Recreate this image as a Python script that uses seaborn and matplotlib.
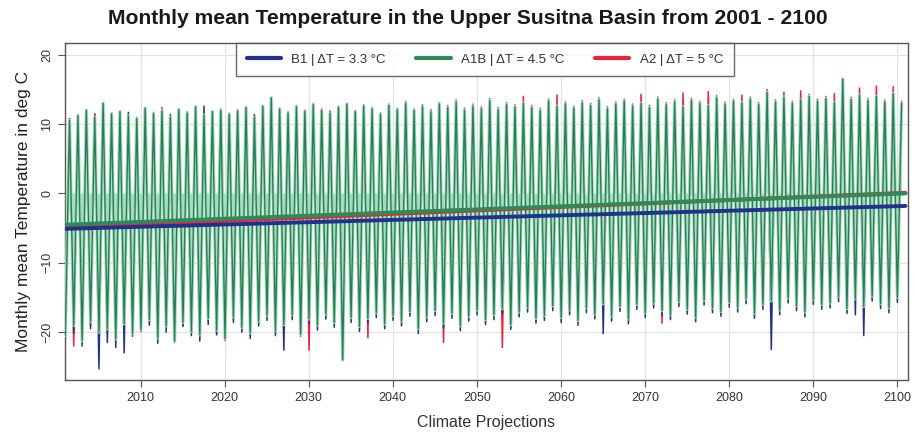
import numpy as np
import pandas as pd
import matplotlib
matplotlib.use("Agg")
import matplotlib.pyplot as plt
from matplotlib.lines import Line2D
import seaborn as sns

# Yearly extremes of the monthly mean temperature (deg C), 2001-2100:
# January minimum and July maximum for each emission scenario.
years = list(range(2001, 2101))

a1b_peak = [
    10.5, 11.2, 12.0, 11.0, 13.0, 11.5, 11.8, 11.2, 10.8, 12.3,
    11.5, 11.9, 11.0, 12.1, 11.6, 12.5, 11.3, 11.8, 12.0, 11.4,
    11.9, 12.4, 11.0, 12.6, 13.8, 12.2, 11.6, 12.5, 11.9, 12.8,
    12.0, 11.6, 12.4, 12.9, 11.8, 12.6, 12.2, 11.3, 12.7, 12.1,
    13.0, 12.0, 12.5, 11.8, 12.9, 12.4, 13.2, 12.0, 12.6, 12.2,
    13.4, 12.1, 12.8, 12.5, 13.0, 12.4, 12.0, 13.3, 12.6, 12.9,
    12.3, 13.1, 12.7, 13.5, 12.2, 12.9, 13.3, 12.6, 13.0, 12.4,
    13.6, 12.8, 13.2, 12.5, 13.4, 13.0, 12.7, 13.8, 12.9, 13.3,
    13.1, 13.6, 12.8, 14.6, 13.2, 13.9, 13.0, 13.5, 14.0, 13.3,
    13.7, 13.1, 16.5, 13.6, 14.2, 13.4, 14.0, 13.2, 14.4, 13.0,
]
a1b_trough = [
    -20.5, -19.0, -21.2, -18.5, -20.0, -19.5, -21.0, -18.8, -20.2, -19.6,
    -18.2, -20.8, -19.1, -21.3, -18.6, -19.9, -20.4, -18.0, -19.7, -20.9,
    -17.8, -19.3, -20.1, -18.4, -17.6, -19.8, -18.9, -17.5, -20.3, -18.1,
    -19.0, -17.4, -18.6, -24.0, -17.9, -19.2, -18.0, -17.2, -18.8, -17.6,
    -18.4, -17.0, -19.5, -17.8, -16.9, -18.7, -17.3, -19.1, -17.7, -16.8,
    -18.2, -17.5, -16.6, -18.9, -17.1, -16.4, -18.0, -17.6, -16.2, -17.9,
    -16.8, -18.3, -16.5, -17.4, -15.9, -17.7, -16.3, -18.1, -16.0, -17.2,
    -15.8, -16.9, -17.5, -15.6, -16.7, -17.8, -15.4, -16.5, -17.0, -15.7,
    -16.4, -15.2, -17.3, -16.0, -15.5, -16.8, -15.1, -16.2, -17.1, -15.3,
    -16.0, -15.8, -14.9, -16.6, -15.2, -16.3, -14.8, -15.9, -16.5, -15.0,
]
b1_peak = [
    10.8, 11.0, 11.6, 11.3, 12.4, 11.0, 11.5, 11.7, 10.9, 11.8,
    11.2, 11.5, 11.4, 11.9, 11.1, 12.0, 12.6, 11.5, 11.7, 11.2,
    11.6, 12.0, 11.3, 12.2, 12.8, 11.9, 11.4, 12.1, 11.7, 12.2,
    11.8, 11.9, 12.1, 12.3, 11.6, 12.0, 11.9, 11.5, 12.3, 11.8,
    12.4, 11.7, 12.2, 11.9, 12.5, 12.0, 12.6, 11.8, 12.2, 11.9,
    12.8, 11.9, 12.3, 12.1, 12.5, 12.0, 11.8, 12.7, 12.2, 12.4,
    12.0, 12.6, 12.3, 12.9, 11.9, 12.5, 12.8, 12.2, 12.5, 12.1,
    13.0, 12.4, 12.7, 12.2, 12.9, 12.5, 12.3, 13.1, 12.5, 12.8,
    12.6, 13.0, 12.4, 13.4, 12.8, 13.2, 12.6, 13.0, 13.3, 12.8,
    13.1, 12.7, 14.0, 13.0, 13.5, 12.9, 13.4, 12.8, 13.6, 12.6,
]
b1_trough = [
    -21.0, -20.2, -22.0, -19.5, -25.3, -21.5, -22.2, -23.0, -20.6, -19.8,
    -19.0, -21.6, -20.0, -20.8, -19.2, -20.5, -21.3, -18.9, -20.4, -19.8,
    -18.6, -20.0, -20.9, -19.1, -18.3, -20.5, -22.6, -18.2, -19.6, -18.8,
    -19.7, -18.1, -19.3, -21.8, -18.6, -19.9, -18.7, -17.9, -19.5, -18.3,
    -19.1, -17.7, -20.2, -18.5, -17.6, -19.4, -18.0, -19.8, -18.4, -17.5,
    -18.9, -18.2, -17.3, -19.6, -17.8, -17.1, -18.7, -18.3, -16.9, -18.6,
    -17.5, -19.0, -17.2, -18.1, -20.2, -18.4, -17.0, -18.8, -16.7, -17.9,
    -16.5, -17.6, -18.2, -16.3, -17.4, -18.5, -16.1, -17.2, -17.7, -16.4,
    -17.1, -15.9, -18.0, -16.7, -22.5, -17.5, -15.8, -16.9, -17.8, -16.0,
    -16.7, -16.5, -15.6, -17.3, -17.5, -20.5, -15.5, -16.6, -17.2, -15.7,
]
a2_peak = [
    10.6, 11.4, 11.8, 11.5, 12.6, 11.3, 11.6, 11.4, 11.0, 12.0,
    11.7, 12.4, 11.2, 12.0, 11.8, 12.3, 11.5, 11.9, 12.2, 11.6,
    12.1, 12.5, 11.4, 12.4, 13.2, 12.3, 11.8, 12.7, 12.0, 13.0,
    12.2, 11.8, 12.6, 12.7, 12.0, 12.8, 12.4, 11.6, 12.9, 12.3,
    13.3, 12.2, 12.8, 12.1, 13.1, 12.7, 13.5, 12.3, 12.9, 12.5,
    13.7, 12.4, 13.1, 12.8, 14.0, 12.7, 12.3, 13.6, 14.2, 13.2,
    12.6, 13.4, 13.0, 13.8, 12.5, 13.2, 13.6, 12.9, 14.3, 12.7,
    13.9, 13.1, 13.5, 14.5, 13.7, 13.3, 14.7, 14.1, 13.2, 13.6,
    14.2, 13.9, 13.1, 15.0, 13.5, 14.6, 13.3, 14.8, 14.3, 13.6,
    14.0, 14.4, 14.5, 13.9, 15.2, 13.7, 15.5, 13.5, 15.4, 13.3,
]
a2_trough = [
    -20.8, -22.0, -21.0, -19.0, -20.5, -20.0, -21.4, -19.2, -20.0, -19.9,
    -18.6, -21.0, -19.4, -21.5, -19.0, -20.1, -20.7, -18.3, -20.2, -21.2,
    -18.1, -19.6, -20.4, -18.7, -17.9, -20.1, -19.2, -17.8, -20.6, -22.6,
    -19.3, -17.7, -18.9, -21.2, -18.2, -19.5, -20.8, -17.5, -19.1, -17.9,
    -18.7, -17.3, -19.8, -18.1, -17.2, -21.5, -17.6, -19.4, -18.0, -17.1,
    -18.5, -17.8, -22.2, -19.2, -17.4, -16.7, -18.3, -17.9, -16.5, -18.2,
    -17.1, -18.6, -16.8, -17.7, -16.2, -18.0, -16.6, -18.4, -16.3, -17.5,
    -16.1, -18.7, -17.8, -15.9, -17.0, -18.1, -15.7, -16.8, -17.3, -16.0,
    -16.7, -15.5, -17.6, -16.3, -15.8, -17.1, -15.4, -16.5, -17.4, -15.6,
    -16.3, -16.1, -15.2, -16.9, -15.5, -16.6, -15.1, -16.2, -16.8, -15.3,
]

scenarios = ["B1", "A1B", "A2"]
delta_t = [3.3, 4.5, 5.0]          # warming over the century, deg C
trend_start = [-5.1, -4.5, -4.9]   # linear trend value at 2001, deg C
colors = {"B1": "#22308f", "A1B": "#2e8b57", "A2": "#e8243f"}
mint = "#a3dcbf"

series = {
    "B1": (b1_trough, b1_peak),
    "A1B": (a1b_trough, a1b_peak),
    "A2": (a2_trough, a2_peak),
}

rows = []
for name, (lows, highs) in series.items():
    for y, lo, hi in zip(years, lows, highs):
        rows.append((name, y + 0.04, lo))   # January
        rows.append((name, y + 0.54, hi))   # July
df = pd.DataFrame(rows, columns=["scenario", "time", "temp"])

trend_rows = []
for name, d, s in zip(scenarios, delta_t, trend_start):
    trend_rows.append((name, 2001.0, s))
    trend_rows.append((name, 2101.0, s + d))
trend = pd.DataFrame(trend_rows, columns=["scenario", "time", "temp"])

sns.set_style("white")
plt.rcParams["font.family"] = ["Liberation Sans", "DejaVu Sans"]

fig = plt.figure(figsize=(9.14, 4.33), dpi=100)
ax = fig.add_axes([0.0711, 0.1224, 0.9223, 0.7783])

# B1 and A2 underneath, A1B with a mint halo and shaded area on top
sns.lineplot(data=df[df.scenario != "A1B"], x="time", y="temp",
             hue="scenario", hue_order=["A2", "B1"], palette=colors,
             sort=False, estimator=None, linewidth=1.1, legend=False,
             ax=ax, zorder=2)
green = df[df.scenario == "A1B"]
ax.fill_between(green.time, green.temp, 0, color=mint, lw=0, zorder=3)
sns.lineplot(data=green, x="time", y="temp", color=mint,
             sort=False, estimator=None, linewidth=2.4, legend=False,
             ax=ax, zorder=3)
sns.lineplot(data=green, x="time", y="temp", color="#2a7f52",
             sort=False, estimator=None, linewidth=1.0, legend=False,
             ax=ax, zorder=4)

sns.lineplot(data=trend, x="time", y="temp", hue="scenario",
             hue_order=["A2", "A1B", "B1"], palette=colors, sort=False,
             estimator=None, linewidth=2.8, legend=False, ax=ax, zorder=5)

ax.set_xlim(2001.0, 2101.3)
ax.set_ylim(-26.9, 21.7)
ax.set_xticks(range(2010, 2101, 10))
ax.set_yticks([-20, -10, 0, 10, 20])
ax.grid(True, color="#e2e2e2", lw=0.8, zorder=0)
ax.set_axisbelow(True)
for sp in ax.spines.values():
    sp.set_color("#555555")
    sp.set_linewidth(1.0)
ax.tick_params(axis="both", direction="out", length=5, width=0.8,
               color="#555555", labelsize=9, labelcolor="#333333",
               bottom=True, left=True)
for lab in ax.get_yticklabels():
    lab.set_rotation(90)
    lab.set_va("center")

ax.set_xlabel("Climate Projections", fontsize=11.5, color="#333333", labelpad=8)
ax.set_ylabel("Monthly mean Temperature in deg C", fontsize=12.5,
              color="#222222", labelpad=7)

handles = [Line2D([0], [0], color=colors[n], lw=3) for n in scenarios]
labels = [f"{n} | \u0394T = {d:g} \u00b0C" for n, d in zip(scenarios, delta_t)]
leg = ax.legend(handles, labels, loc="upper center", ncol=3,
                bbox_to_anchor=(0.498, 1.0), borderaxespad=0,
                frameon=True, fancybox=False, fontsize=9.5,
                handlelength=2.6, columnspacing=2.3, borderpad=0.8,
                labelcolor="#333333")
leg.get_frame().set_edgecolor("#444444")
leg.get_frame().set_linewidth(1.0)
leg.set_zorder(6)

fig.text(0.512, 1 - 18 / 433,
         "Monthly mean Temperature in the Upper Susitna Basin from 2001 - 2100",
         ha="center", va="center", fontsize=15.2, fontweight="bold",
         color="#1a1a1a")

fig.savefig("out.png", dpi=100)
